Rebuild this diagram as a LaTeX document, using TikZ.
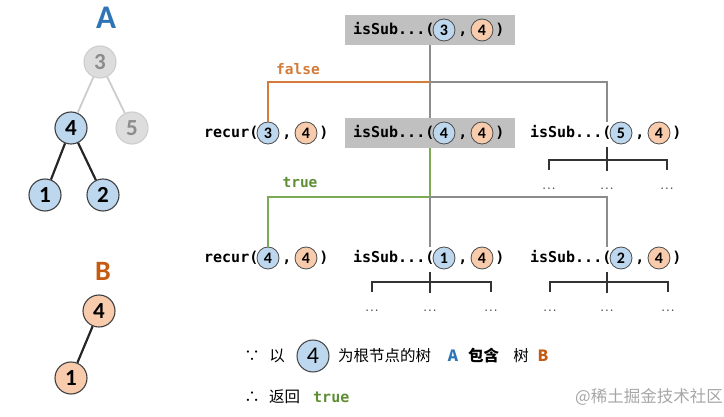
\documentclass[tikz,border=0pt]{standalone}
\usepackage{fontspec}
\setmonofont{DejaVu Sans Mono}
\newfontfamily\cjk{Noto Sans CJK SC}
\newfontfamily\numfont{Carlito}

\definecolor{blueF}{HTML}{BDD7EE}
\definecolor{orangeF}{HTML}{F8CBAD}
\definecolor{grayF}{HTML}{DDDDDD}
\definecolor{grayD}{HTML}{CDCDCD}
\definecolor{grayT}{HTML}{8C8C8C}
\definecolor{boxF}{HTML}{C0C0C0}
\definecolor{lineG}{HTML}{8C8C8C}
\definecolor{orangeL}{HTML}{D27B3A}
\definecolor{greenL}{HTML}{7BAA55}
\definecolor{greenT}{HTML}{5F8F35}
\definecolor{blueA}{HTML}{2E75B6}
\definecolor{orangeB}{HTML}{C55A11}

\begin{document}
\begin{tikzpicture}[x=1pt, y=-1pt,
  treeN/.style={circle, draw=black!75, line width=1.1pt, fill=blueF, minimum size=32pt, inner sep=0pt,
    font=\numfont\bfseries\fontsize{23}{23}\selectfont},
  treeG/.style={treeN, draw=grayD, fill=grayF, text=grayT},
  treeB/.style={treeN, fill=orangeF},
  edgeK/.style={line width=2.2pt, black!85},
  edgeG/.style={line width=1.8pt, black!20},
  mono/.style={font=\ttfamily\bfseries\fontsize{15}{15}\selectfont, inner sep=0pt, anchor=base},
  ca/.style={circle, draw=black!70, line width=0.8pt, fill=blueF, minimum size=22pt, inner sep=0pt,
    font=\numfont\bfseries\fontsize{16}{16}\selectfont},
  cb/.style={ca, fill=orangeF},
  callbox/.style={fill=boxF, minimum width=170pt, minimum height=30pt, inner sep=0pt},
  link/.style={draw=lineG, line width=1.2pt},
  falseline/.style={draw=orangeL, line width=1.3pt},
  trueline/.style={draw=greenL, line width=1.3pt},
  brace/.style={draw=black!80, line width=1.3pt},
  dotsty/.style={font=\fontsize{19}{19}\selectfont, text=black!75, inner sep=0pt},
  tag/.style={font=\ttfamily\bfseries\fontsize{14.5}{14.5}\selectfont},
  zh/.style={font=\cjk\fontsize{15.5}{15.5}\selectfont, inner sep=0pt, anchor=base west}]
\useasboundingbox (0,0) rectangle (724,417);

% tree A
\node[font=\numfont\bfseries\fontsize{33}{33}\selectfont, text=blueA] (labA) at (106,18) {A};
\node[treeG] (a3) at (100,62) {3};
\node[treeN] (a4) at (71,128) {4};
\node[treeG] (a5) at (132,128) {5};
\node[treeN] (a1) at (45,195) {1};
\node[treeN] (a2) at (103,195) {2};
\draw[edgeG] (a3) -- (a4);
\draw[edgeG] (a3) -- (a5);
\draw[edgeK] (a4) -- (a1);
\draw[edgeK] (a4) -- (a2);

% tree B
\node[font=\numfont\bfseries\fontsize{28}{28}\selectfont, text=orangeB] (labB) at (103,271) {B};
\node[treeB] (b4) at (99,311) {4};
\node[treeB] (b1) at (71,378) {1};
\draw[edgeK] (b4) -- (b1);

% calls
\node[callbox] (top) at (430,30) {};
\node[mono, anchor=base east] (top-fn) at (425.5,35) {isSub...};
\node[mono] (top-p) at (430,35) {(};
\node[ca] (top-a) at (444,30) {3};
\node[mono] (top-c) at (463,35) {,};
\node[cb] (top-b) at (482,30) {4};
\node[mono] (top-q) at (500,35) {)};

\node[mono, anchor=base east] (r34-fn) at (249.5,138) {recur};
\node[mono] (r34-p) at (254,138) {(};
\node[ca] (r34-a) at (268,133) {3};
\node[mono] (r34-c) at (287,138) {,};
\node[cb] (r34-b) at (306,133) {4};
\node[mono] (r34-q) at (324,138) {)};

\node[callbox] (s44) at (430,133) {};
\node[mono, anchor=base east] (s44-fn) at (425.5,138) {isSub...};
\node[mono] (s44-p) at (430,138) {(};
\node[ca] (s44-a) at (444,133) {4};
\node[mono] (s44-c) at (463,138) {,};
\node[cb] (s44-b) at (482,133) {4};
\node[mono] (s44-q) at (500,138) {)};

\node[mono, anchor=base east] (s54-fn) at (602.5,138) {isSub...};
\node[mono] (s54-p) at (607,138) {(};
\node[ca] (s54-a) at (621,133) {5};
\node[mono] (s54-c) at (640,138) {,};
\node[cb] (s54-b) at (659,133) {4};
\node[mono] (s54-q) at (677,138) {)};

\node[mono, anchor=base east] (r44-fn) at (249.5,263) {recur};
\node[mono] (r44-p) at (254,263) {(};
\node[ca] (r44-a) at (268,258) {4};
\node[mono] (r44-c) at (287,263) {,};
\node[cb] (r44-b) at (306,258) {4};
\node[mono] (r44-q) at (324,263) {)};

\node[mono, anchor=base east] (s14-fn) at (425.5,263) {isSub...};
\node[mono] (s14-p) at (430,263) {(};
\node[ca] (s14-a) at (444,258) {1};
\node[mono] (s14-c) at (463,263) {,};
\node[cb] (s14-b) at (482,258) {4};
\node[mono] (s14-q) at (500,263) {)};

\node[mono, anchor=base east] (s24-fn) at (602.5,263) {isSub...};
\node[mono] (s24-p) at (607,263) {(};
\node[ca] (s24-a) at (621,258) {2};
\node[mono] (s24-c) at (640,263) {,};
\node[cb] (s24-b) at (659,258) {4};
\node[mono] (s24-q) at (677,263) {)};

% links
\coordinate (fork1) at (430,82);
\coordinate (fork2) at (430,197);
\draw[link] (top) -- (s44);
\draw[falseline] (fork1) -| (r34-a.north);
\draw[link] (fork1) -| ([yshift=4pt]s54-p.north);
\draw[trueline] (s44) -- (fork2) -| (r44-a.north);
\draw[link] (fork2) -- ([yshift=4pt]s14-p.north);
\draw[link] (fork2) -| ([yshift=4pt]s24-p.north);
\node[tag, text=orangeL] (lblfalse) at (298,69) {false};
\node[tag, text=greenT] (lbltrue) at (300,183) {true};

% children not expanded
\node[dotsty] (s54-d1) at (549,189) {...};
\node[dotsty] (s54-d2) at (607,189) {...};
\node[dotsty] (s54-d3) at (667,189) {...};
\draw[brace] ([yshift=-7pt]s54-p.south) -- ([yshift=18pt]s54-d2.center);
\draw[brace] ([yshift=19pt]s54-d1.center) |- ([yshift=29pt]s54-d2.center) -| ([yshift=19pt]s54-d3.center);

\node[dotsty] (s14-d1) at (372,311) {...};
\node[dotsty] (s14-d2) at (430,311) {...};
\node[dotsty] (s14-d3) at (491,311) {...};
\draw[brace] ([yshift=-7pt]s14-p.south) -- ([yshift=18pt]s14-d2.center);
\draw[brace] ([yshift=19pt]s14-d1.center) |- ([yshift=29pt]s14-d2.center) -| ([yshift=19pt]s14-d3.center);

\node[dotsty] (s24-d1) at (550,311) {...};
\node[dotsty] (s24-d2) at (607,311) {...};
\node[dotsty] (s24-d3) at (668,311) {...};
\draw[brace] ([yshift=-7pt]s24-p.south) -- ([yshift=18pt]s24-d2.center);
\draw[brace] ([yshift=19pt]s24-d1.center) |- ([yshift=29pt]s24-d2.center) -| ([yshift=19pt]s24-d3.center);

% conclusion
\node[zh, anchor=base] (since) at (252,361) {∵};
\node[zh, anchor=base] (yi) at (277,361) {以};
\node[circle, draw=black!75, line width=1pt, fill=blueF, minimum size=32pt, inner sep=0pt,
  font=\numfont\fontsize{24}{24}\selectfont] (root4) at (313,356) {4};
\node[zh] (txt1) at (338,361) {为根节点的树};
\node[zh, font=\cjk\bfseries\fontsize{15.5}{15.5}\selectfont, text=blueA, anchor=base] (txtA) at (453,361) {A};
\node[zh, font=\cjk\bfseries\fontsize{15.5}{15.5}\selectfont] (txt2) at (468,361) {包含};
\node[zh, anchor=base] (txt3) at (521,361) {树};
\node[zh, font=\cjk\bfseries\fontsize{15.5}{15.5}\selectfont, text=orangeB, anchor=base] (txtB) at (543,361) {B};
\node[zh, anchor=base] (hence) at (252,402) {∴};
\node[zh] (txt4) at (269,402) {返回};
\node[mono, anchor=base west, text=greenT] (txt5) at (313,402) {true};
\node[zh, font=\cjk\fontsize{16.5}{16.5}\selectfont, text=black!35] (mark) at (575,402) {@稀土掘金技术社区};
\end{tikzpicture}
\end{document}
